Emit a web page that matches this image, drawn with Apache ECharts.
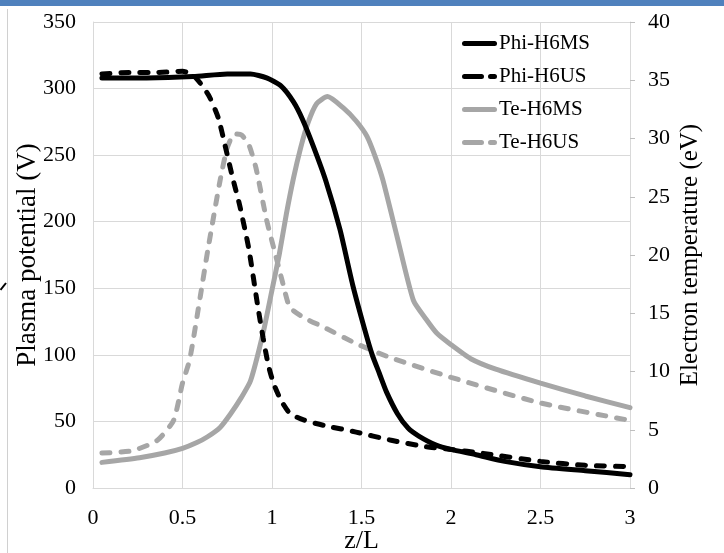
<!DOCTYPE html>
<html>
<head>
<meta charset="utf-8">
<script src="https://cdn.jsdelivr.net/npm/echarts@6/dist/echarts.min.js"></script>
<style>html,body{margin:0;padding:0;background:#fff;}#c{width:724px;height:553px;}</style>
</head>
<body>
<div id="c"></div>
<script>
var seriesNames = ['Phi-H6MS', 'Phi-H6US', 'Te-H6MS', 'Te-H6US'];
var xTicks = [0, 0.5, 1, 1.5, 2, 2.5, 3];

var phiMS_z = [0.05,0.3,0.56,0.75,0.88,0.97,1.05,1.12,1.17,1.23,1.30,1.38,1.45,1.52,1.56,1.60,1.64,1.70,1.76,1.82,1.92,2.0,2.14,2.3,2.5,2.75,3.0];
var phiMS_v = [308,308,309,311,311,308,302,290,277,257,231,194,153,118,100,86,72,56,45,39,32,29,25,20,16,13,10];

var phiUS_z = [0.05,0.2,0.35,0.5,0.56,0.6,0.65,0.70,0.74,0.78,0.82,0.87,0.92,0.95,0.98,1.01,1.05,1.10,1.18,1.29,1.47,1.66,1.86,2.0,2.18,2.5,2.75,3.0];
var phiUS_v = [311,312,312,313,310,304,294,278,256,233,212,180,137,113,92,78,66,56,51,47,42,36,31,29,26,20,17,16];

var teMS_z = [0.05,0.26,0.4,0.5,0.58,0.64,0.71,0.77,0.83,0.88,0.95,1.0,1.04,1.08,1.12,1.16,1.20,1.25,1.31,1.40,1.47,1.53,1.58,1.62,1.70,1.79,1.86,1.92,2.0,2.11,2.25,2.5,2.75,3.0];
var teMS_t = [2.2,2.6,3.0,3.4,3.9,4.4,5.2,6.4,7.8,9.2,13.3,17,20,23.5,26.6,29.2,31.3,33,33.6,32.6,31.5,30.2,28.3,26.4,21.5,16.1,14.5,13.3,12.3,11.1,10.2,9.0,7.9,6.9];

var teUS_z = [0.05,0.22,0.36,0.45,0.5,0.54,0.6,0.64,0.71,0.75,0.79,0.83,0.87,0.91,0.97,1.02,1.06,1.10,1.18,1.29,1.47,1.66,2.0,2.5,3.0];
var teUS_t = [3.0,3.2,4.1,5.8,9.0,11,16.5,20.3,26.4,29.2,30.4,30.3,29.5,27.5,23,20,17.6,15.5,14.6,13.8,12.4,11.2,9.5,7.3,5.8];

function pairs(a, b) { return a.map(function (v, i) { return [v, b[i]]; }); }

var FONT = 'Liberation Serif';
var solidIcon = 'path://M2.5,0H32.5A2.5,2.5,0,0,1,32.5,5H2.5A2.5,2.5,0,0,1,2.5,0Z';
var dashIcon = 'path://M2.5,0H19.5A2.5,2.5,0,0,1,19.5,5H2.5A2.5,2.5,0,0,1,2.5,0Z M28.5,0H32.5A2.5,2.5,0,0,1,32.5,5H28.5A2.5,2.5,0,0,1,28.5,0Z';
var chart = echarts.init(document.getElementById('c'), null, {renderer: 'canvas'});
var dash = [8, 11];
chart.setOption({
  animation: false,
  backgroundColor: '#fff',
  textStyle: {fontFamily: FONT, color: '#000'},
  grid: {left: 93, right: 94, top: 22, bottom: 65, containLabel: false, outerBoundsMode: 'none'},
  legend: {
    orient: 'vertical', left: 457, top: 28,
    itemWidth: 35, itemHeight: 5, itemGap: 12,
    textStyle: {fontFamily: FONT, fontSize: 21, color: '#000', padding: [0, 0, 0, -3]},
    data: [
      {name: seriesNames[0], icon: solidIcon},
      {name: seriesNames[1], icon: dashIcon},
      {name: seriesNames[2], icon: solidIcon},
      {name: seriesNames[3], icon: dashIcon}
    ]
  },
  graphic: [
    {type: 'rect', shape: {x: 0, y: 0, width: 724, height: 6}, style: {fill: '#4f81bd'}, silent: true},
    {type: 'line', shape: {x1: 7.5, y1: 9, x2: 7.5, y2: 553}, style: {stroke: '#d0d0d0', lineWidth: 1}, silent: true},
    {type: 'line', shape: {x1: 0.5, y1: 290, x2: 6, y2: 283}, style: {stroke: '#000', lineWidth: 2}, silent: true}
  ],
  xAxis: {
    type: 'value', min: 0, max: 3, interval: 0.5,
    name: 'z/L', nameLocation: 'middle', nameGap: 40, nameMoveOverlap: false,
    nameTextStyle: {fontFamily: FONT, fontSize: 26, color: '#000'},
    axisLine: {show: true, lineStyle: {color: '#d9d9d9', width: 1}},
    axisTick: {show: false},
    axisLabel: {fontFamily: FONT, fontSize: 22, color: '#000', margin: 19},
    splitLine: {show: true, lineStyle: {color: '#d9d9d9', width: 1}}
  },
  yAxis: [
    {
      type: 'value', min: 0, max: 350, interval: 50,
      name: 'Plasma potential (V)', nameLocation: 'middle', nameGap: 52, nameMoveOverlap: false,
      nameTextStyle: {fontFamily: FONT, fontSize: 27, color: '#000'},
      axisLine: {show: true, lineStyle: {color: '#d9d9d9'}},
      axisTick: {show: false},
      axisLabel: {fontFamily: FONT, fontSize: 22, color: '#000', margin: 17},
      splitLine: {show: true, lineStyle: {color: '#d9d9d9', width: 1}}
    },
    {
      type: 'value', min: 0, max: 40, interval: 5, position: 'right',
      name: 'Electron temperature (eV)', nameLocation: 'middle', nameGap: 48, nameMoveOverlap: false,
      nameTextStyle: {fontFamily: FONT, fontSize: 25, color: '#000'},
      axisLine: {show: true, lineStyle: {color: '#d9d9d9'}},
      axisTick: {show: true, length: 5, lineStyle: {color: '#bfbfbf'}},
      axisLabel: {fontFamily: FONT, fontSize: 22, color: '#000', margin: 18},
      splitLine: {show: false}
    }
  ],
  series: [
    {name: seriesNames[0], type: 'line', yAxisIndex: 0, data: pairs(phiMS_z, phiMS_v), symbol: 'none', smooth: 0.2,
     lineStyle: {color: '#000', width: 5, cap: 'round'}, itemStyle: {color: '#000'}, z: 4},
    {name: seriesNames[1], type: 'line', yAxisIndex: 0, data: pairs(phiUS_z, phiUS_v), symbol: 'none', smooth: 0.2,
     lineStyle: {color: '#000', width: 5, type: dash, cap: 'round'}, itemStyle: {color: '#000'}, z: 4},
    {name: seriesNames[2], type: 'line', yAxisIndex: 1, data: pairs(teMS_z, teMS_t), symbol: 'none', smooth: 0.2,
     lineStyle: {color: '#a6a6a6', width: 5, cap: 'round'}, itemStyle: {color: '#a6a6a6'}, z: 3},
    {name: seriesNames[3], type: 'line', yAxisIndex: 1, data: pairs(teUS_z, teUS_t), symbol: 'none', smooth: 0.2,
     lineStyle: {color: '#a6a6a6', width: 5, type: dash, cap: 'round'}, itemStyle: {color: '#a6a6a6'}, z: 3}
  ]
});
</script>
</body>
</html>
